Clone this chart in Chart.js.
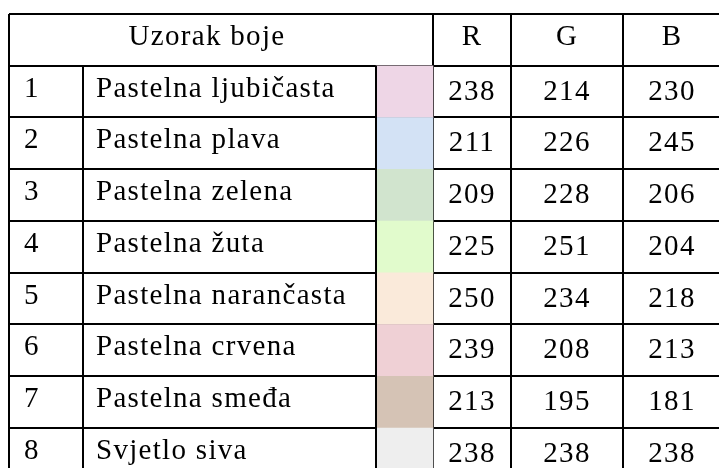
<!DOCTYPE html>
<html lang="hr">
<head>
<meta charset="UTF-8">
<title>Uzorak boje</title>
<script src="https://cdn.jsdelivr.net/npm/chart.js"></script>
<style>
    * { margin: 0; padding: 0; box-sizing: border-box; }
    body { background: #fff; width: 719px; height: 468px; overflow: hidden; }
    canvas { display: block; }
</style>
</head>
<body>
<canvas id="table" width="719" height="468"></canvas>
<script>
    // table data
    const headerTitle = "Uzorak boje";
    const channelLabels = ["R", "G", "B"];
    const colourNames = [
        "Pastelna ljubičasta",
        "Pastelna plava",
        "Pastelna zelena",
        "Pastelna žuta",
        "Pastelna narančasta",
        "Pastelna crvena",
        "Pastelna smeđa",
        "Svjetlo siva"
    ];
    const rValues = [238, 211, 209, 225, 250, 239, 213, 238];
    const gValues = [214, 226, 228, 251, 234, 208, 195, 238];
    const bValues = [230, 245, 206, 204, 218, 213, 181, 238];

    // layout (x in table units, y in rows: 0 = top of header)
    const colEdges = [9, 83, 376, 433, 511, 623, 721];
    const rowsVisible = 8.773;
    const font = "29px 'Liberation Serif', 'Times New Roman', serif";

    const rowIds = colourNames.map((n, i) => i + 1);
    const swatchData = rowIds.map(id => ({ x: [colEdges[2], colEdges[3]], y: id + 0.5 }));
    const swatchColors = rowIds.map((id, i) => `rgb(${rValues[i]}, ${gValues[i]}, ${bValues[i]})`);

    const tableText = {
        id: "tableText",
        afterDraw(chart) {
            const ctx = chart.ctx;
            const xs = chart.scales.x, ys = chart.scales.y;
            const area = chart.chartArea;
            ctx.save();

            // partial dividers (not in header row)
            ctx.strokeStyle = "#000";
            ctx.lineWidth = 2;
            [colEdges[1], colEdges[2]].forEach(v => {
                const px = Math.round(xs.getPixelForValue(v));
                ctx.beginPath();
                ctx.moveTo(px, ys.getPixelForValue(1));
                ctx.lineTo(px, area.bottom);
                ctx.stroke();
            });

            ctx.fillStyle = "#000";
            ctx.font = font;
            ctx.letterSpacing = "1.3px";
            ctx.textBaseline = "alphabetic";

            // header
            const hy = ys.getPixelForValue(0.5) + 5;
            ctx.textAlign = "center";
            ctx.fillText(headerTitle, xs.getPixelForValue(207), hy);
            channelLabels.forEach((lab, j) => {
                const cx = (xs.getPixelForValue(colEdges[3 + j]) + xs.getPixelForValue(colEdges[4 + j])) / 2;
                ctx.fillText(lab, cx, hy);
            });

            // rows
            rowIds.forEach((id, i) => {
                const cy = ys.getPixelForValue(id + 0.5);
                ctx.textAlign = "left";
                ctx.fillText(String(id), xs.getPixelForValue(colEdges[0] + 15), cy + 5);
                ctx.fillText(colourNames[i], xs.getPixelForValue(colEdges[1] + 13), cy + 5);
                ctx.textAlign = "center";
                [rValues[i], gValues[i], bValues[i]].forEach((val, j) => {
                    const cx = (xs.getPixelForValue(colEdges[3 + j]) + xs.getPixelForValue(colEdges[4 + j])) / 2;
                    ctx.fillText(String(val), cx, cy + 8);
                });
            });
            ctx.restore();
        }
    };

    new Chart(document.getElementById("table"), {
        type: "bar",
        data: {
            datasets: [{
                data: swatchData,
                backgroundColor: swatchColors,
                borderWidth: 0,
                barPercentage: 1,
                categoryPercentage: 1
            }]
        },
        options: {
            indexAxis: "y",
            responsive: false,
            devicePixelRatio: 1,
            animation: false,
            layout: { padding: { left: colEdges[0], top: 14, right: 0, bottom: 0 } },
            plugins: { legend: { display: false }, tooltip: { enabled: false } },
            scales: {
                x: {
                    type: "linear",
                    min: colEdges[0],
                    max: 719,
                    offset: false,
                    z: 1,
                    afterBuildTicks: s => { s.ticks = [colEdges[0], colEdges[3], colEdges[4], colEdges[5]].map(v => ({ value: v })); },
                    ticks: { display: false },
                    grid: { color: "#000", lineWidth: 2, drawTicks: false, offset: false },
                    border: { display: false }
                },
                y: {
                    type: "linear",
                    reverse: true,
                    min: 0,
                    max: rowsVisible,
                    offset: false,
                    z: 1,
                    afterBuildTicks: s => { s.ticks = [0, 1, 2, 3, 4, 5, 6, 7, 8].map(v => ({ value: v })); },
                    ticks: { display: false },
                    grid: { color: "#000", lineWidth: 2, drawTicks: false, offset: false },
                    border: { display: false }
                }
            }
        },
        plugins: [tableText]
    });
</script>
</body>
</html>
